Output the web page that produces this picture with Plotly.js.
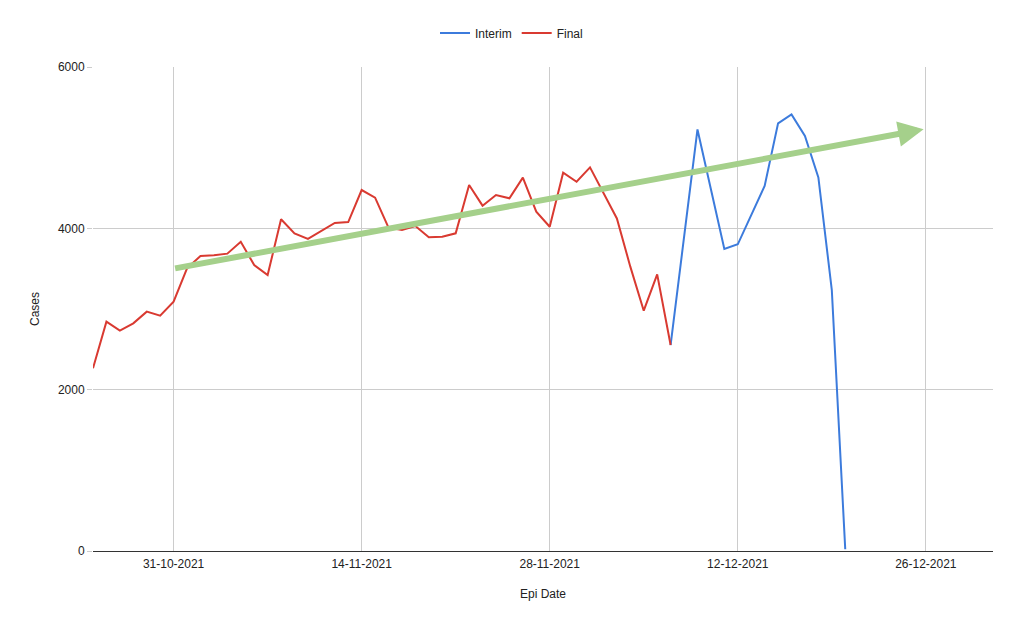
<!DOCTYPE html>
<html>
<head>
<meta charset="utf-8">
<script src="https://cdn.plot.ly/plotly-3.0.1.min.js"></script>
<style>
html,body{margin:0;padding:0;background:#fff;}
#chart{width:1023px;height:630px;}
</style>
</head>
<body>
<div id="chart"></div>
<script>
const finalDates = [
  '2021-10-25','2021-10-26','2021-10-27','2021-10-28','2021-10-29','2021-10-30','2021-10-31',
  '2021-11-01','2021-11-02','2021-11-03','2021-11-04','2021-11-05','2021-11-06','2021-11-07',
  '2021-11-08','2021-11-09','2021-11-10','2021-11-11','2021-11-12','2021-11-13','2021-11-14',
  '2021-11-15','2021-11-16','2021-11-17','2021-11-18','2021-11-19','2021-11-20','2021-11-21',
  '2021-11-22','2021-11-23','2021-11-24','2021-11-25','2021-11-26','2021-11-27','2021-11-28',
  '2021-11-29','2021-11-30','2021-12-01','2021-12-02','2021-12-03','2021-12-04','2021-12-05',
  '2021-12-06','2021-12-07'
];
const finalCases = [
  2265, 2843, 2731, 2822, 2967, 2917, 3091,
  3504, 3657, 3665, 3686, 3834, 3545, 3421,
  4112, 3938, 3868, 3971, 4066, 4078, 4475,
  4380, 4008, 3979, 4029, 3889, 3897, 3938,
  4537, 4281, 4413, 4372, 4628, 4206, 4020,
  4690, 4578, 4756, 4442, 4123, 3525, 2979,
  3429, 2553
];
const interimDates = [
  '2021-12-07','2021-12-08','2021-12-09','2021-12-10','2021-12-11','2021-12-12','2021-12-13',
  '2021-12-14','2021-12-15','2021-12-16','2021-12-17','2021-12-18','2021-12-19','2021-12-20'
];
const interimCases = [
  2553, 3890, 5226, 4485, 3744, 3802, 4165,
  4525, 5302, 5413, 5145, 4632, 3235, 21
];
const trendStart = {date: '2021-10-31', cases: 3500};
const trendEnd = {date: '2021-12-25 20:00', cases: 5228};
const xTickVals = ['2021-10-31','2021-11-14','2021-11-28','2021-12-12','2021-12-26'];
const xTickText = ['31-10-2021','14-11-2021','28-11-2021','12-12-2021','26-12-2021'];
const yTickVals = [0, 2000, 4000, 6000];

const font = 'Arial, "Liberation Sans", sans-serif';

const traces = [
  {x: interimDates, y: interimCases, name: 'Interim', type: 'scatter', mode: 'lines',
   line: {color: '#3c7bdc', width: 2}},
  {x: finalDates, y: finalCases, name: 'Final', type: 'scatter', mode: 'lines',
   line: {color: '#d93a31', width: 2}}
];

const layout = {
  width: 1023, height: 630,
  margin: {l: 93, r: 30, t: 67, b: 79, autoexpand: false},
  paper_bgcolor: '#fff', plot_bgcolor: '#fff',
  font: {family: font, size: 12, color: '#222'},
  showlegend: true,
  legend: {orientation: 'h', x: 0.465, xanchor: 'center', y: 1.07, yanchor: 'middle',
           font: {family: font, size: 12, color: '#222'}, itemwidth: 30, traceorder: 'normal'},
  xaxis: {
    type: 'date', range: ['2021-10-25', '2021-12-31'],
    tickvals: xTickVals, ticktext: xTickText,
    showgrid: true, gridcolor: '#cccccc', gridwidth: 1,
    showline: true, linecolor: '#333', linewidth: 1,
    ticks: '', zeroline: false, ticklabelstandoff: 2,
    tickfont: {family: font, size: 12, color: '#222'},
    title: {text: 'Epi Date', font: {family: font, size: 12, color: '#222'}, standoff: 19}
  },
  yaxis: {
    range: [0, 6000], tickvals: yTickVals,
    showgrid: true, gridcolor: '#cccccc', gridwidth: 1,
    zeroline: false, showline: false, ticks: 'outside', ticklen: 5, tickcolor: '#cccccc',
    tickfont: {family: font, size: 12, color: '#222'},
    title: {text: 'Cases', font: {family: font, size: 12, color: '#222'}, standoff: 15}
  },
  annotations: [{
    x: trendEnd.date, y: trendEnd.cases, xref: 'x', yref: 'y',
    ax: trendStart.date, ay: trendStart.cases, axref: 'x', ayref: 'y',
    text: '', showarrow: true, arrowhead: 2, arrowsize: 0.85, arrowwidth: 6,
    arrowcolor: '#a5d08b', standoff: 0
  }]
};

Plotly.newPlot('chart', traces, layout, {displayModeBar: false, staticPlot: true});
</script>
</body>
</html>
